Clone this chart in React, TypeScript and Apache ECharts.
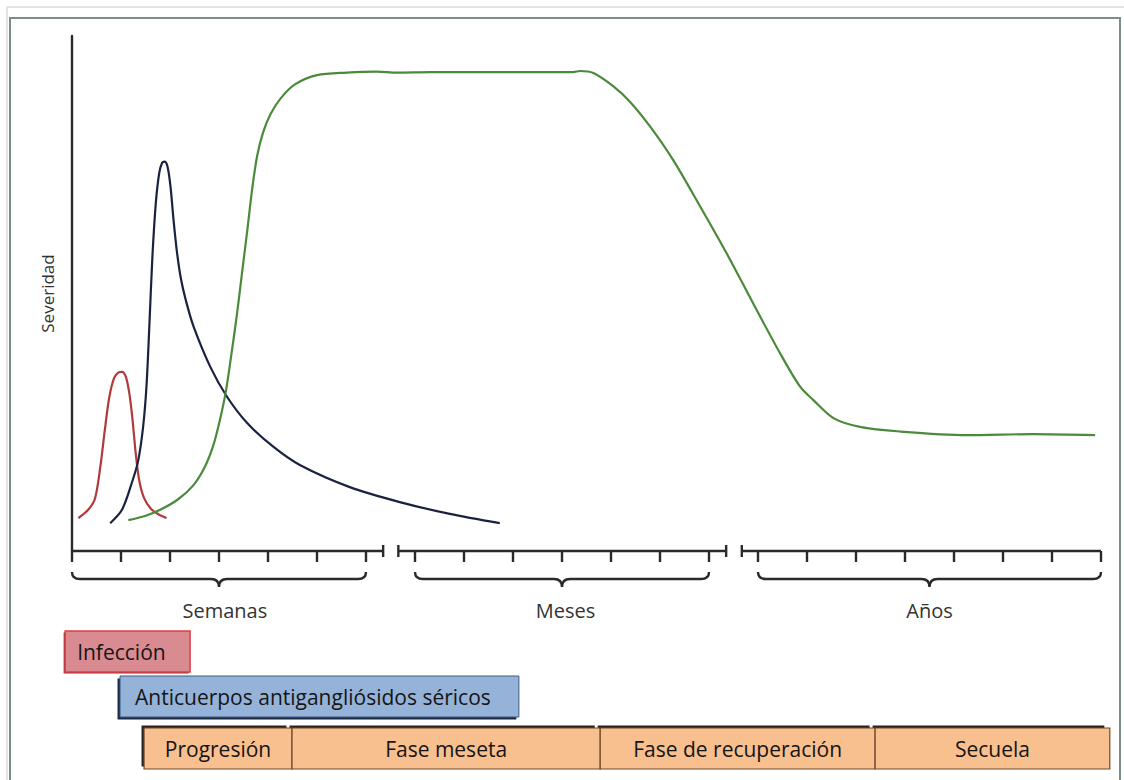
import React, { useEffect, useRef } from "react";
import * as echarts from "echarts";

// ---------- data ----------
const yAxisName = "Severidad";

// time axis (arbitrary units: one tick = one unit)
const tickValues = [0, 1, 2, 3, 4, 5, 6, 7, 8, 9, 10, 11, 12, 13, 14, 15, 16, 17, 18, 19, 20, 21];
const axisSegments = [
  [0, 6.35],
  [6.66, 13.35],
  [13.67, 21],
];
const breakCaps = [6.35, 6.66, 13.35, 13.67];
const braceRanges = [
  [0, 6],
  [7, 13],
  [14, 21],
];
const scaleLabels = ["Semanas", "Meses", "Años"];
const scaleLabelX = [3.12, 10.07, 17.5];

// curves [time, severity]
const infectionCurve = [
  [0.13, 6.4], [0.33, 8.0], [0.47, 10.2], [0.58, 16.5], [0.67, 23.5], [0.76, 29.8],
  [0.86, 33.6], [0.95, 34.7], [1.02, 34.8], [1.1, 33.8], [1.17, 30.6], [1.23, 26.0],
  [1.3, 19.0], [1.37, 13.8], [1.47, 10.3], [1.61, 8.2], [1.77, 7.1], [1.93, 6.4],
];
const antibodyCurve = [
  [0.78, 5.4], [1.02, 8.0], [1.22, 13.2], [1.35, 17.5], [1.45, 24.0], [1.52, 32.0],
  [1.58, 44.0], [1.64, 57.0], [1.71, 67.5], [1.78, 73.4], [1.84, 75.4],
  [1.89, 75.6], [1.95, 74.6], [2.01, 70.8], [2.07, 64.5], [2.14, 58.2], [2.22, 53.0],
  [2.32, 48.8], [2.48, 43.6], [2.82, 35.8], [3.16, 30.0], [3.57, 24.9], [4.1, 20.3],
  [4.65, 16.7], [5.67, 12.4], [6.69, 9.5], [7.71, 7.2], [8.73, 5.4],
];
const severityCurve = [
  [1.15, 6.0], [1.49, 6.8], [1.8, 8.0], [2.16, 10.0], [2.48, 12.8], [2.71, 16.3],
  [2.88, 20.4], [3.02, 25.5], [3.14, 31.0], [3.25, 38.0], [3.36, 45.5], [3.47, 54.0],
  [3.58, 62.5], [3.68, 70.5], [3.78, 76.8], [3.9, 81.3], [4.05, 84.8],
  [4.25, 87.8], [4.55, 90.6], [5.0, 92.4], [5.61, 92.9], [6.22, 93.1], [6.63, 92.9],
  [7.31, 93.0], [8.73, 93.0], [10.23, 93.0], [10.37, 93.2], [10.64, 92.8], [11.05, 90.2],
  [11.39, 87.2], [11.8, 82.4], [12.27, 75.9], [12.82, 66.9], [13.36, 57.8], [13.9, 48.1],
  [14.45, 38.4], [14.86, 31.9], [15.13, 29.3], [15.54, 25.8], [16.08, 24.1], [16.9, 23.2],
  [18.26, 22.5], [19.62, 22.7], [20.88, 22.5],
];

// timeline bars below the axis
const barLabels = ["Infección", "Anticuerpos antigangliósidos séricos"];
const barRanges = [
  [-0.14, 2.41],
  [0.98, 9.12],
];
const phaseNames = ["Progresión", "Fase meseta", "Fase de recuperación", "Secuela"];
const phaseBounds = [1.47, 4.49, 10.78, 16.39, 21.18];

// ---------- styles ----------
const FONT = '"Open Sans", "Noto Sans", sans-serif';
const AXIS_COLOR = "#2a2a2a";

function renderAxisDecor(_params: any, api: any) {
  const y0 = api.coord([0, 0])[1];
  const px = (v: number) => api.coord([v, 0])[0];
  const children: any[] = [];
  const ls = { stroke: AXIS_COLOR, lineWidth: 2.4, lineCap: "butt" };
  axisSegments.forEach(([a, b]) =>
    children.push({ type: "line", shape: { x1: px(a), y1: y0, x2: px(b), y2: y0 }, style: ls })
  );
  breakCaps.forEach((v) =>
    children.push({ type: "line", shape: { x1: px(v), y1: y0 - 6, x2: px(v), y2: y0 + 6 }, style: ls })
  );
  tickValues.forEach((v) =>
    children.push({ type: "line", shape: { x1: px(v), y1: y0, x2: px(v), y2: y0 + 11 }, style: ls })
  );
  braceRanges.forEach(([a, b], i) => {
    const L = px(a);
    const R = px(b);
    const M = (L + R) / 2;
    const t = y0 + 21;
    const m = y0 + 28;
    const tip = y0 + 36;
    const r = 8;
    const d =
      `M${L} ${t} Q${L} ${m} ${L + r} ${m} L${M - r} ${m} Q${M} ${m} ${M} ${tip} ` +
      `Q${M} ${m} ${M + r} ${m} L${R - r} ${m} Q${R} ${m} ${R} ${t}`;
    children.push({
      type: "path",
      shape: { pathData: d },
      style: { stroke: AXIS_COLOR, lineWidth: 2.4, fill: "none" },
    });
    children.push({
      type: "text",
      style: {
        text: scaleLabels[i],
        x: px(scaleLabelX[i]),
        y: y0 + 59,
        align: "center",
        verticalAlign: "middle",
        fontSize: 20,
        fontFamily: FONT,
        fill: "#333333",
      },
    });
  });
  return { type: "group", children };
}

function renderBars(_params: any, api: any) {
  const y0 = api.coord([0, 0])[1];
  const px = (v: number) => api.coord([v, 0])[0];
  const children: any[] = [];
  const h = 41;
  const txt = (text: string, x: number, y: number, align: string) => ({
    type: "text",
    style: { text, x, y, align, verticalAlign: "middle", fontSize: 21, fontFamily: FONT, fill: "#151515" },
  });

  // Infección
  {
    const [a, b] = barRanges[0];
    const x = px(a);
    const w = px(b) - x;
    const y = y0 + 80;
    children.push({ type: "rect", shape: { x: x - 1.5, y: y + 1.5, width: w, height: h }, style: { fill: "#9a3036" } });
    children.push({
      type: "rect",
      shape: { x, y, width: w, height: h },
      style: { fill: "#d98b91", stroke: "#d8404a", lineWidth: 1.5 },
    });
    children.push(txt(barLabels[0], x + 12, y + h / 2, "left"));
  }
  // Anticuerpos
  {
    const [a, b] = barRanges[1];
    const x = px(a);
    const w = px(b) - x;
    const y = y0 + 125;
    children.push({ type: "rect", shape: { x: x - 2.5, y: y + 2.5, width: w, height: h }, style: { fill: "#1d2a44" } });
    children.push({
      type: "rect",
      shape: { x, y, width: w, height: h },
      style: { fill: "#95b3d8", stroke: "#3e5b86", lineWidth: 1 },
    });
    children.push(txt(barLabels[1], x + 15, y + h / 2, "left"));
  }
  // Phases
  {
    const y = y0 + 177;
    for (let i = 0; i < phaseNames.length; i++) {
      const x = px(phaseBounds[i]);
      const w = px(phaseBounds[i + 1]) - x;
      children.push({
        type: "rect",
        shape: { x: x - 2.5, y: y - 2.5, width: w - 3, height: h },
        style: { fill: "#262320" },
      });
    }
    for (let i = 0; i < phaseNames.length; i++) {
      const x = px(phaseBounds[i]);
      const w = px(phaseBounds[i + 1]) - x;
      children.push({
        type: "rect",
        shape: { x, y, width: w, height: h },
        style: { fill: "#f8bf8f", stroke: "#6e4a2a", lineWidth: 1.2 },
      });
      children.push(txt(phaseNames[i], x + w / 2, y + h / 2, "center"));
    }
  }
  return { type: "group", children };
}

export default function App() {
  const ref = useRef<HTMLDivElement>(null);

  useEffect(() => {
    if (!ref.current) return;
    const chart = echarts.init(ref.current, undefined, { renderer: "svg" });
    const lineSeries = (name: string, data: number[][], color: string) => ({
      name,
      type: "line",
      data,
      smooth: 0.3,
      showSymbol: false,
      symbol: "none",
      lineStyle: { color, width: 2.2 },
      z: 3,
    });
    chart.setOption({
      animation: false,
      backgroundColor: "#ffffff",
      grid: { left: 72, right: 23, top: 36, bottom: 229, containLabel: false },
      xAxis: {
        type: "value",
        min: 0,
        max: 21,
        show: false,
      },
      yAxis: {
        type: "value",
        min: 0,
        max: 100,
        name: yAxisName,
        nameLocation: "middle",
        nameGap: 16,
        nameRotate: 90,
        nameTextStyle: { fontSize: 17, color: "#333", fontFamily: FONT },
        axisLine: { show: true, lineStyle: { color: AXIS_COLOR, width: 2.4 } },
        axisTick: { show: false },
        axisLabel: { show: false },
        splitLine: { show: false },
      },
      graphic: [
        {
          type: "line",
          shape: { x1: 7, y1: 7, x2: 1124, y2: 7 },
          style: { stroke: "#dadada", lineWidth: 1.5 },
          silent: true,
        },
        {
          type: "line",
          shape: { x1: 7, y1: 7, x2: 7, y2: 780 },
          style: { stroke: "#dadada", lineWidth: 1.5 },
          silent: true,
        },
        {
          type: "rect",
          shape: { x: 10, y: 18, width: 1110, height: 800 },
          style: { fill: "none", stroke: "#7b8f8a", lineWidth: 2 },
          silent: true,
        },
      ],
      series: [
        lineSeries("Infección", infectionCurve, "#b23a3a"),
        lineSeries("Anticuerpos", antibodyCurve, "#1b2240"),
        lineSeries("Severidad", severityCurve, "#4a8a3a"),
        {
          type: "custom",
          name: "eje",
          coordinateSystem: "cartesian2d",
          data: [[0, 0]],
          renderItem: renderAxisDecor,
          silent: true,
          z: 2,
        },
        {
          type: "custom",
          name: "fases",
          coordinateSystem: "cartesian2d",
          data: [[0, 0]],
          renderItem: renderBars,
          silent: true,
          z: 2,
        },
      ],
    });
    return () => chart.dispose();
  }, []);

  return (
    <div
      ref={ref}
      style={{ position: "fixed", left: 0, top: 0, width: 1124, height: 780, background: "#fff" }}
    />
  );
}
